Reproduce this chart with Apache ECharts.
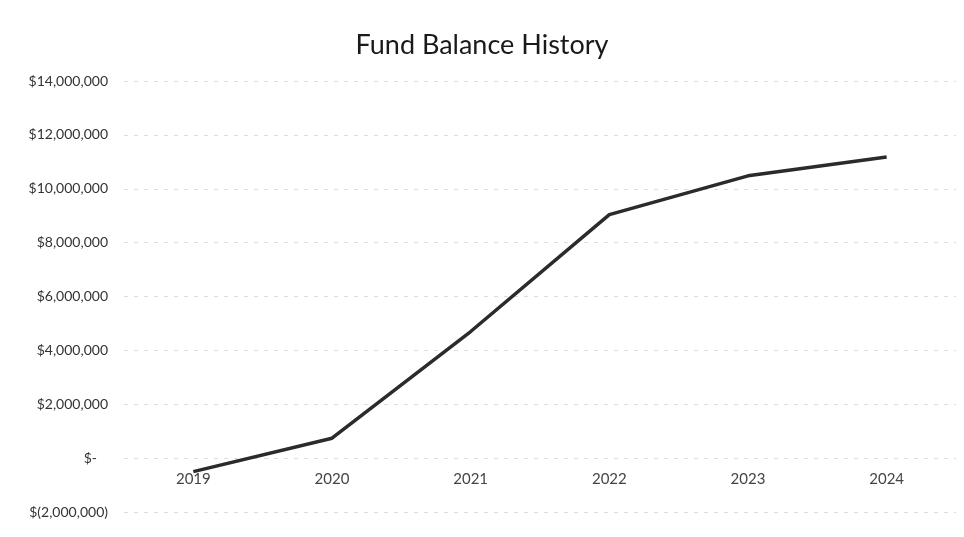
<!DOCTYPE html>
<html><head><meta charset="utf-8">
<script src="https://cdn.jsdelivr.net/npm/echarts@6/dist/echarts.min.js"></script>
<style>html,body{margin:0;padding:0;background:#fff}#c{width:964px;height:537px}</style>
</head><body><div id="c"></div>
<script>
const categories = ['2019','2020','2021','2022','2023','2024'];
const balance = [-500000, 740000, 4700000, 9040000, 10480000, 11180000];
const yTicks = { min: -2000000, max: 14000000, step: 2000000 };

function fmt(v){
  if (v === 0) return '{z|$-}';
  const s = Math.abs(v).toLocaleString('en-US');
  return v < 0 ? '$(' + s + ')' : '$' + s;
}
const FONT = 'Lato';
const chart = echarts.init(document.getElementById('c'));
chart.setOption({
  backgroundColor:'#fff',
  animation:false,
  title:{text:'Fund Balance History',left:'center',top:27,
    textStyle:{fontFamily:'Lato',fontSize:27,fontWeight:'normal',color:'#1a1a1a'}},
  grid:{left:124,right:8,top:81,bottom:25,containLabel:false,outerBoundsMode:'none'},
  xAxis:{type:'category',data:categories,boundaryGap:true,
    axisLine:{show:false,onZero:false},axisTick:{show:false},
    axisLabel:{margin:-40,fontFamily:FONT,fontSize:15,color:'#444'}},
  yAxis:{type:'value',min:yTicks.min,max:yTicks.max,interval:yTicks.step,
    axisLine:{show:false},axisTick:{show:false},
    splitLine:{lineStyle:{color:'#dcdcdc',type:[4,6],width:1}},
    axisLabel:{margin:16,fontFamily:FONT,fontSize:14,color:'#333',formatter:fmt,
      rich:{z:{fontFamily:FONT,fontSize:14,color:'#333',padding:[0,11,0,0]}}}},
  series:[{type:'line',data:balance,symbol:'none',
    lineStyle:{color:'#2b2b2b',width:3.5}}]
});
</script></body></html>
